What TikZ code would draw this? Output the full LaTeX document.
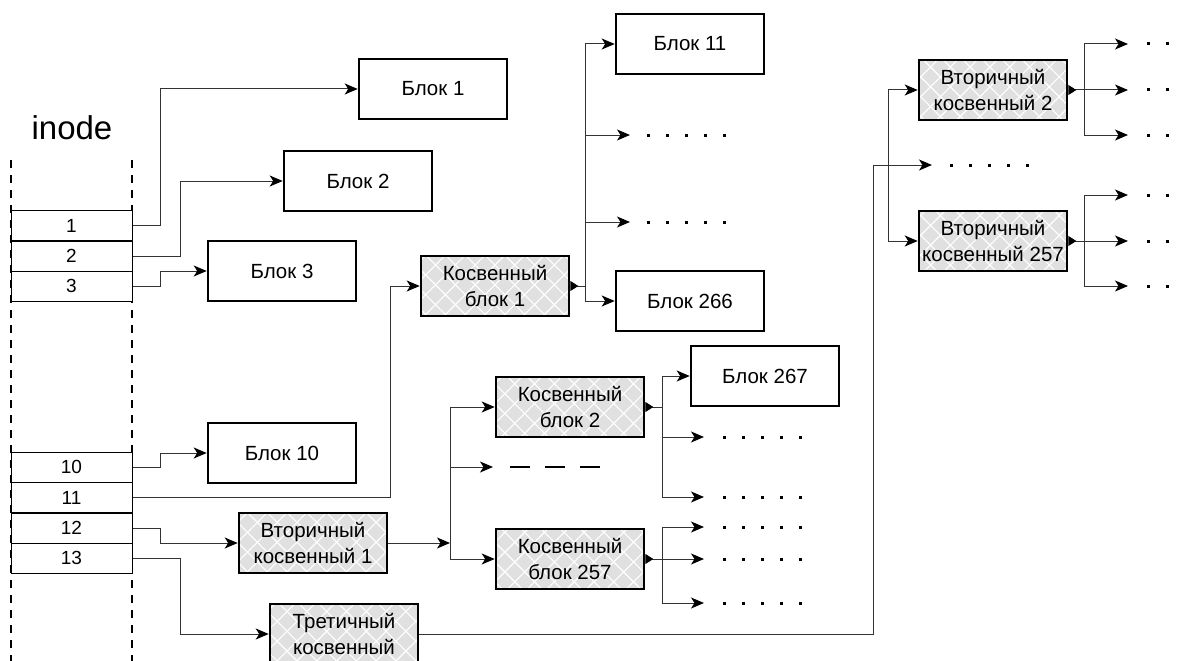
\documentclass[tikz,border=0pt]{standalone}
\usepackage{fontspec}
\setmainfont{Liberation Sans}
\usetikzlibrary{arrows.meta,patterns.meta,calc}
\begin{document}
\begin{tikzpicture}[x=1pt,y=-1pt,
 box/.style={draw, line width=2.6pt, minimum width=148pt, minimum height=60pt, inner sep=0pt, align=center, font=\fontsize{20.5}{26}\selectfont},
 hbox/.style={box, preaction={fill=black!12},
   preaction={pattern={Lines[angle=45,distance=14pt,line width=1.1pt]},pattern color=white},
   preaction={pattern={Lines[angle=-45,distance=14pt,line width=1.1pt]},pattern color=white}},
 cell/.style={draw, line width=1pt, fill=white, minimum width=121pt, minimum height=30pt, inner sep=0pt, font=\fontsize{19}{21}\selectfont},
 conn/.style={draw=black!80, line width=1pt},
 arr/.style={conn, -{Stealth[length=13pt,width=11pt,inset=3.5pt,color=black]}},
 outt/.style={conn, {Triangle[reversed,length=8pt,width=10pt,color=black]}-},
 dotrow/.style={line width=3pt, dash pattern=on 3pt off 16pt},
 dashrow/.style={line width=1.6pt, dash pattern=on 20pt off 15pt},
 vdash/.style={line width=1.5pt, dash pattern=on 8pt off 7pt}
]
\useasboundingbox (0,0) rectangle (1184,661);

% inode column
\node[font=\fontsize{33}{38}\selectfont] (title) at (72,128) {inode};
\draw[vdash] (11,160) -- (11,661);
\draw[vdash] (132,160) -- (132,661);
\node[cell] (c1)  at (71.5,225.5) {1};
\node[cell] (c2)  at (71.5,256)   {2};
\node[cell] (c3)  at (71.5,286)   {3};
\node[cell] (c10) at (71.5,467)   {10};
\node[cell] (c11) at (71.5,497.5) {11};
\node[cell] (c12) at (71.5,528)   {12};
\node[cell] (c13) at (71.5,558)   {13};

% plain blocks
\node[box] (b1)   at (433,89)  {Блок 1};
\node[box] (b2)   at (358,181) {Блок 2};
\node[box] (b3)   at (282,271) {Блок 3};
\node[box] (b10)  at (282,453) {Блок 10};
\node[box] (b11)  at (690,44)  {Блок 11};
\node[box] (b266) at (690,301) {Блок 266};
\node[box] (b267) at (765,376) {Блок 267};

% indirect blocks
\node[hbox] (k1)   at (495,286) {Косвенный\\блок 1};
\node[hbox] (k2)   at (570,407) {Косвенный\\блок 2};
\node[hbox] (k257) at (570,559) {Косвенный\\блок 257};
\node[hbox] (v1)   at (313,543) {Вторичный\\косвенный 1};
\node[hbox] (t)    at (344,634) {Третичный\\косвенный};
\node[hbox] (v2)   at (993,90)  {Вторичный\\косвенный 2};
\node[hbox] (v257) at (993,241) {Вторичный\\косвенный 257};

% inode connectors
\draw[arr] (c1.east) -- ++(28,0) |- (b1.west);
\draw[arr] (c2.east) -- ++(48,0) |- (b2.west);
\draw[arr] (c3.east) -- ++(28,0) |- (b3.west);
\draw[arr] (c10.east) -- ++(28,0) |- (b10.west);
\draw[arr] (c11.east) -- ++(258,0) |- (k1.west);
\draw[arr] (c12.east) -- ++(28,0) |- (v1.west);
\draw[arr] (c13.east) -- ++(48,0) |- (t.west);

% fan of indirect block 1
\coordinate (k1j) at (585,286);
\coordinate (d1a) at (630,135);
\coordinate (d1b) at (630,222);
\draw[outt] (k1.east) -- (k1j);
\draw[arr] (k1j) |- (b11.west);
\draw[arr] (k1j) |- (d1a);
\draw[arr] (k1j) |- (d1b);
\draw[arr] (k1j) |- (b266.west);
\draw[dotrow] (d1a) ++(17,0) -- ++(79,0);
\draw[dotrow] (d1b) ++(17,0) -- ++(79,0);

% double indirect 1
\coordinate (vj1) at (450,543);
\coordinate (dd) at (493,467);
\draw[arr] (v1.east) -- (vj1);
\draw[arr] (vj1) |- (k2.west);
\draw[arr] (vj1) |- (dd);
\draw[arr] (vj1) |- (k257.west);
\draw[dashrow] (dd) ++(17,0) -- ++(90,0);

% fan of indirect block 2
\coordinate (k2j) at (662,407);
\coordinate (d2a) at (704,437);
\coordinate (d2b) at (704,497);
\draw[outt] (k2.east) -- (k2j);
\draw[arr] (k2j) |- (b267.west);
\draw[arr] (k2j) |- (d2a);
\draw[arr] (k2j) |- (d2b);
\draw[dotrow] (d2a) ++(19,0) -- ++(79,0);
\draw[dotrow] (d2b) ++(19,0) -- ++(79,0);

% fan of indirect block 257
\coordinate (k3j) at (662,559);
\coordinate (d3a) at (704,527);
\coordinate (d3b) at (704,559);
\coordinate (d3c) at (704,603);
\draw[outt] (k257.east) -- (k3j);
\draw[arr] (k3j) |- (d3a);
\draw[arr] (k3j) |- (d3b);
\draw[arr] (k3j) |- (d3c);
\draw[dotrow] (d3a) ++(19,0) -- ++(79,0);
\draw[dotrow] (d3b) ++(19,0) -- ++(79,0);
\draw[dotrow] (d3c) ++(19,0) -- ++(79,0);

% triple indirect
\coordinate (tv) at (873,165);
\coordinate (td) at (932,165);
\coordinate (vj) at (888,165);
\draw[arr] (t.east) -| (tv) -- (td);
\draw[dotrow] (td) ++(18,0) -- ++(79,0);
\draw[arr] (vj) |- (v2.west);
\draw[arr] (vj) |- (v257.west);

% fan of double indirect 2
\coordinate (v2j) at (1084,90);
\coordinate (e1) at (1128,44);
\coordinate (e2) at (1128,90);
\coordinate (e3) at (1128,135);
\draw[outt] (v2.east) -- (v2j);
\draw[arr] (v2j) |- (e1);
\draw[arr] (v2j) |- (e2);
\draw[arr] (v2j) |- (e3);
\draw[dotrow] (e1) ++(19,0) -- ++(60,0);
\draw[dotrow] (e2) ++(19,0) -- ++(60,0);
\draw[dotrow] (e3) ++(19,0) -- ++(60,0);

% fan of double indirect 257
\coordinate (v3j) at (1084,241);
\coordinate (f1) at (1128,195);
\coordinate (f2) at (1128,241);
\coordinate (f3) at (1128,286);
\draw[outt] (v257.east) -- (v3j);
\draw[arr] (v3j) |- (f1);
\draw[arr] (v3j) |- (f2);
\draw[arr] (v3j) |- (f3);
\draw[dotrow] (f1) ++(19,0) -- ++(60,0);
\draw[dotrow] (f2) ++(19,0) -- ++(60,0);
\draw[dotrow] (f3) ++(19,0) -- ++(60,0);
\end{tikzpicture}
\end{document}
